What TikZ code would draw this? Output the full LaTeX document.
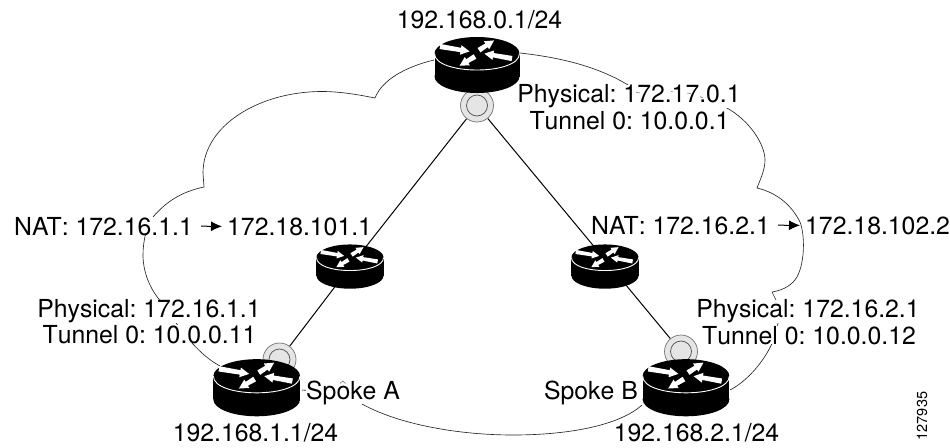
\documentclass[tikz,border=0pt]{standalone}
\usepackage{fontspec}
\setmainfont[Kerning=Off]{TeX Gyre Heros}
\usetikzlibrary{arrows.meta,backgrounds}
\tikzset{
  label text/.style={anchor=base,inner sep=0pt,fill=white,font=\fontsize{24.8}{28}\selectfont\frenchspacing},
  disc/.style={circle,draw=black!55,line width=.7pt,fill=black!10,minimum size=33pt,inner sep=0pt},
  ring/.style={draw=black!70,line width=.7pt},
  cloudline/.style={draw=black!85,line width=.65pt,line join=miter},
  fleck/.style={draw=black!60,line width=.5pt},
  link/.style={draw=black,line width=1pt},
  natarrow/.style={draw=black,line width=1pt,-{Latex[length=11pt,width=10pt]},shorten <=8pt,shorten >=5pt},
  arrowshape/.style={fill=white},
  router/.pic={
    \fill[black] (0,23) ellipse [x radius=42.5,y radius=16.5];
    \fill[black] (-42.5,0) rectangle (42.5,23);
    \fill[black] (0,0) ellipse [x radius=42.5,y radius=16.5];
    \draw[white,line width=.9pt] (-42.5,0) .. controls (-42.5,22) and (42.5,22) .. (42.5,0);
    \foreach \px/\py/\ang/\len in {-37/-7/-9.5/30, 2/-3.3/33/18, 35/5/170/28, -2/3/211/18}{
      \fill[arrowshape,shift={(\px,\py)},rotate=\ang]
        (0,-2.6) -- ({\len-9},-2.2) -- ({\len-9},-4.8) -- (\len,0) -- ({\len-9},4.8) -- ({\len-9},2.2) -- (0,2.6) -- cycle;
    }
  }
}
\begin{document}
\begin{tikzpicture}[x=1pt,y=-1pt]
\useasboundingbox (0,0) rectangle (950,447);
% discs
\node[disc] (discT) at (477,105.5) {};
\node[disc] (discA) at (279.5,359.5) {};
\node[disc] (discB) at (681,351.5) {};
\draw[ring] (discT) circle (10.5);
\draw[ring] (discA) circle (10.5);
\draw[ring] (discB) circle (10.5);
% routers
\coordinate (hubL) at (350,267);
\coordinate (hubR) at (611,267);
\pic at (477,53.5) {router};
\pic[scale=.79] at (350,257.5) {router};
\pic[scale=.79] at (605,257.5) {router};
\pic[scale=1.02] at (256.7,376) {router};
\pic[scale=1.02] at (686,376) {router};
% texts
\node[label text] (hubaddr) at (479.5,28) {192.168.0.1/24};
\node[label text] (hubphys) at (629,102.7) {Physical: 172.17.0.1};
\node[label text] (hubtun) at (629.5,129) {Tunnel 0: 10.0.0.1};
\node[label text,anchor=base east] (natA) at (193,235) {NA\kern-1.9pt T: 172.16.1.1};
\node[label text,anchor=base west] (natAb) at (227,235) {172.18.101.1};
\node[label text,anchor=base east] (natB) at (770,234) {NA\kern-1.9pt T: 172.16.2.1};
\node[label text,anchor=base west] (natBb) at (805,234) {172.18.102.2};
\node[label text] (physA) at (149,317.7) {Physical: 172.16.1.1};
\node[label text] (tunA) at (149.5,343) {Tunnel 0: 10.0.0.11};
\node[label text] (physB) at (808,317.7) {Physical: 172.16.2.1};
\node[label text] (tunB) at (809,344) {Tunnel 0: 10.0.0.12};
\node[label text,anchor=base west] (spokeA) at (306,399) {Spoke A};
\node[label text,anchor=base east] (spokeB) at (638,399) {Spoke B};
\node[label text] (addrA) at (255.5,441.7) {192.168.1.1/24};
\node[label text] (addrB) at (696.5,441.7) {192.168.2.1/24};
\node[rotate=90,inner sep=0pt,font=\fontsize{14.5}{16}\selectfont] (figid) at (922,416) {127935};
\draw[natarrow] (natA.east) -- (natAb.west);
\draw[natarrow] (natB.east) -- (natBb.west);
% remnants of the cloud outline between the glyphs
\draw[fleck] (636,92.5) -- (640,93) (671,91.5) -- (673,92) (687,93) -- (691,93.5) (700,96.5) -- (703,98);
\draw[fleck] (340,383.5) -- (342.7,381) -- (345.5,383.5);
\begin{scope}[on background layer]
  % cloud outline
  \draw[cloudline] (434,60) .. controls (405,67) and (382,80) .. (375,98)
    .. controls (355,94) and (338,91.5) .. (322,91.5)
    .. controls (260,91.5) and (203,125) .. (203,173)
    -- (204,187)
    .. controls (180,192) and (165,203) .. (153,217)
    .. controls (147,225) and (143,240) .. (143,255)
    .. controls (143,272) and (150,288) .. (158,298)
    .. controls (170,312) and (190,350) .. (220,366);
  \draw[cloudline] (520,53) .. controls (565,58) and (600,68) .. (628,85)
    .. controls (650,96) and (700,92) .. (725,107)
    .. controls (750,120) and (765,145) .. (765,160)
    .. controls (765,170) and (760,180) .. (757,188)
    .. controls (778,193) and (792,206) .. (800,222)
    .. controls (805,235) and (805,262) .. (797,277)
    .. controls (792,285) and (784,290) .. (772,292)
    -- (777,302) -- (778,323)
    .. controls (775,350) and (750,380) .. (730,390);
  \draw[cloudline] (302,390) .. controls (325,392) and (345,393) .. (362,404)
    .. controls (400,425) and (460,435) .. (513,435)
    .. controls (570,435) and (620,425) .. (642,405);
  % links
  \draw[link] (discT) -- (hubL);
  \draw[link] (discT) -- (hubR);
  \draw[link] (hubL) -- (discA);
  \draw[link] (hubR) -- (discB);
\end{scope}
\end{tikzpicture}
\end{document}
